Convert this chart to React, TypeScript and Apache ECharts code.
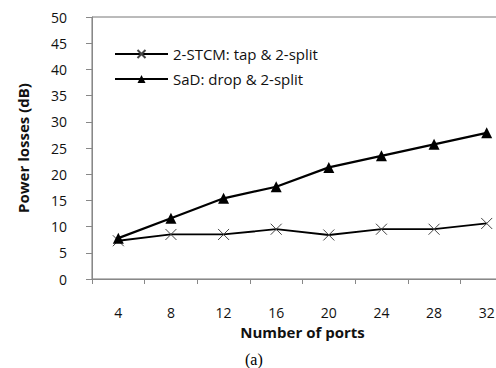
import React, { useEffect, useRef } from "react";
import * as echarts from "echarts";

const categories = ["4", "8", "12", "16", "20", "24", "28", "32"];
const stcmValues = [7.3, 8.5, 8.5, 9.5, 8.4, 9.5, 9.5, 10.6];
const sadValues = [7.8, 11.6, 15.4, 17.6, 21.3, 23.5, 25.7, 27.9];
const seriesNames = ["2-STCM: tap & 2-split", "SaD: drop & 2-split"];

const FONT = "'Open Sans', 'Liberation Sans', sans-serif";

export default function App() {
  const ref = useRef<HTMLDivElement>(null);
  useEffect(() => {
    if (!ref.current) return;
    const chart = echarts.init(ref.current, null, { renderer: "svg" });
    chart.setOption({
      animation: false,
      backgroundColor: "#ffffff",
      textStyle: { fontFamily: FONT },
      grid: {
        left: 92,
        top: 17,
        width: 421,
        height: 262,
        show: true,
        borderColor: "#777",
        borderWidth: 1,
        containLabel: false,
      },
      legend: {
        orient: "vertical",
        left: 109,
        top: 41,
        itemWidth: 53,
        itemHeight: 10,
        itemGap: 9,
        textStyle: { fontFamily: FONT, fontSize: 15, lineHeight: 16, color: "#111" },
        data: seriesNames,
      },
      xAxis: {
        type: "category",
        data: categories,
        boundaryGap: true,
        axisLine: { lineStyle: { color: "#888", width: 1 } },
        axisTick: { show: true, length: 5, lineStyle: { color: "#888" } },
        axisLabel: { color: "#111", fontSize: 14, fontFamily: FONT, margin: 26 },
        name: "Number of ports",
        nameLocation: "middle",
        nameGap: 45,
        nameTextStyle: { fontFamily: FONT, fontSize: 15, fontWeight: "bold", color: "#111" },
        splitLine: { show: false },
      },
      yAxis: {
        type: "value",
        min: 0,
        max: 50,
        interval: 5,
        axisLine: { show: true, lineStyle: { color: "#888", width: 1 } },
        axisTick: { show: true, length: 6, lineStyle: { color: "#888" } },
        axisLabel: { color: "#111", fontSize: 14, fontFamily: FONT, margin: 25 },
        splitLine: { show: false },
        name: "Power losses (dB)",
        nameLocation: "middle",
        nameGap: 62,
        nameTextStyle: { fontFamily: FONT, fontSize: 15, fontWeight: "bold", color: "#111" },
      },
      series: [
        {
          name: seriesNames[0],
          type: "line",
          data: stcmValues,
          symbol: "path://M0,0L10,10M10,0L0,10",
          symbolSize: 11,
          showSymbol: true,
          lineStyle: { color: "#000", width: 1.8 },
          itemStyle: { color: "#000", borderColor: "#444", borderWidth: 1 },
          z: 3,
        },
        {
          name: seriesNames[1],
          type: "line",
          data: sadValues,
          symbol: "triangle",
          symbolSize: 11,
          showSymbol: true,
          lineStyle: { color: "#000", width: 2.2 },
          itemStyle: { color: "#000" },
          z: 4,
        },
      ],
      graphic: [
        {
          type: "text",
          left: 245,
          top: 351,
          style: { text: "(a)", fontFamily: "'Liberation Serif', 'DejaVu Serif', serif", fontSize: 16, fill: "#000" },
        },
      ],
    });
    return () => chart.dispose();
  }, []);
  return (
    <div
      ref={ref}
      style={{ position: "fixed", left: 0, top: 0, width: 530, height: 368, background: "#fff" }}
    />
  );
}
